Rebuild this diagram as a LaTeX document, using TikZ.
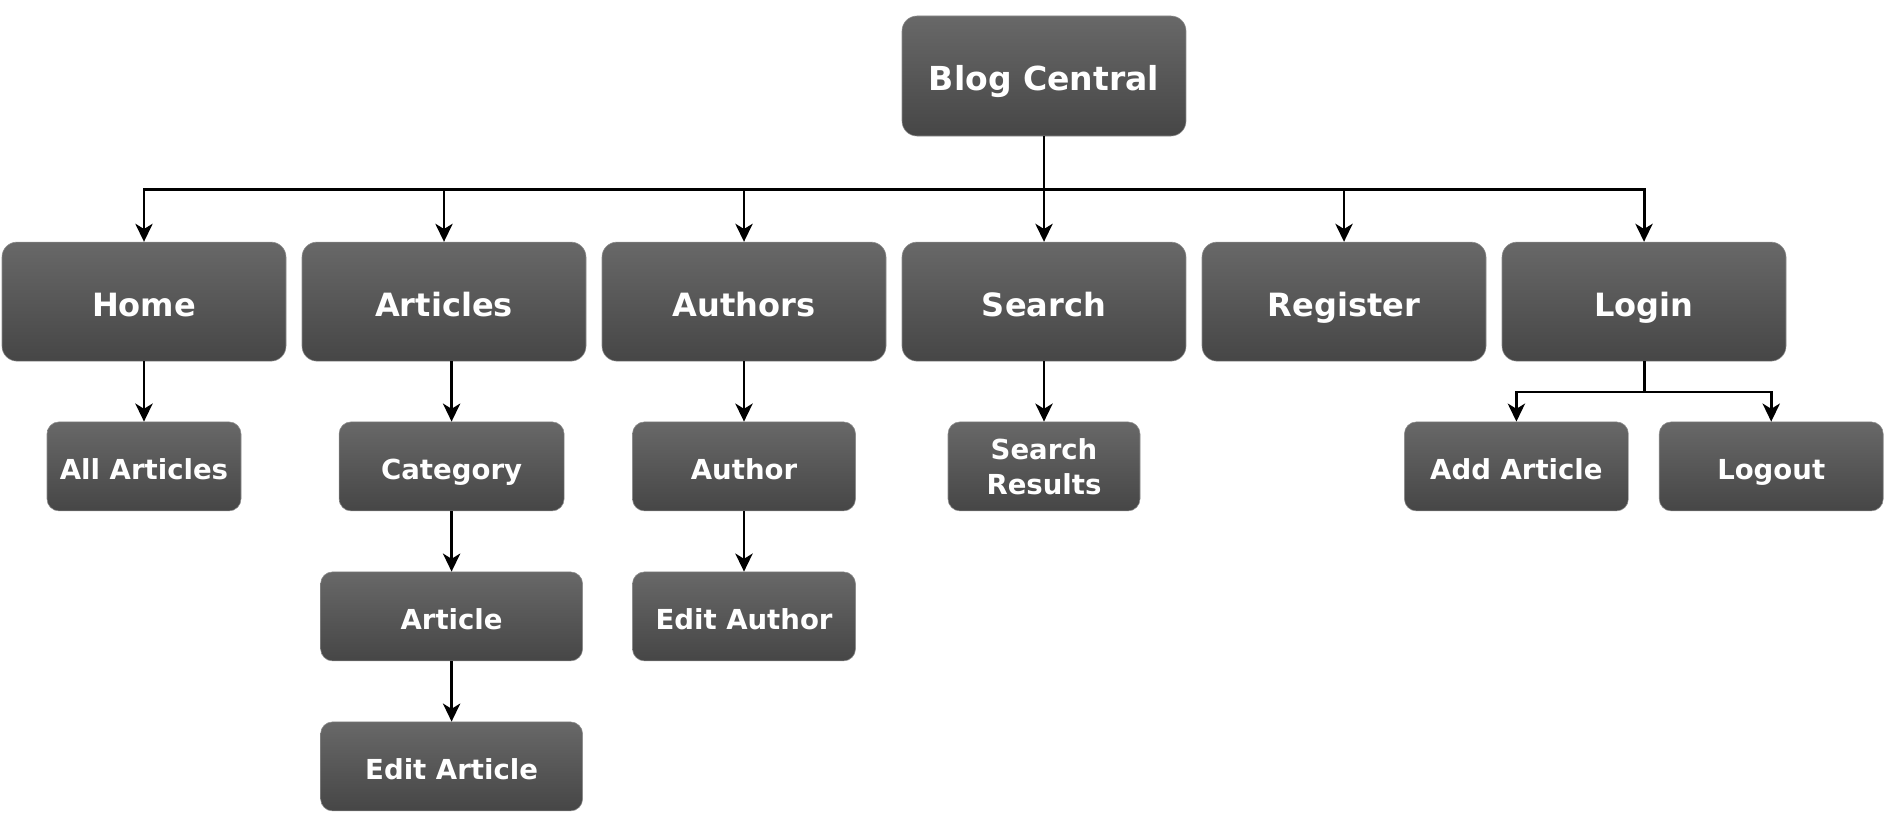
\documentclass[tikz,border=0pt]{standalone}
\usepackage{fontspec}
\setmainfont{DejaVu Sans}
\usepackage{tikz}
\usetikzlibrary{arrows.meta,positioning,calc}
\definecolor{boxTop}{HTML}{686868}
\definecolor{boxBottom}{HTML}{464646}
\definecolor{boxEdge}{HTML}{8C8C8C}

\begin{document}
\begin{tikzpicture}[
    page/.style={draw=boxEdge, line width=0.4pt, top color=boxTop, bottom color=boxBottom, text=white, align=center, inner sep=0pt, text depth=0pt},
    root/.style={page, text height=21.2pt, minimum width=7.1cm, minimum height=3cm, rounded corners=0.375cm, font=\fontsize{23.5}{26}\selectfont\bfseries},
    menu/.style={page, text height=20.5pt, minimum width=7.1cm, minimum height=2.975cm, rounded corners=0.375cm, font=\fontsize{22.8}{25}\selectfont\bfseries},
    sub/.style={draw=boxEdge, line width=0.4pt, top color=boxTop, bottom color=boxBottom, text=white, align=center, inner sep=0pt, minimum height=2.225cm, rounded corners=0.3cm, font=\fontsize{19.6}{24.9}\selectfont\bfseries},
    leaf/.style={sub, text height=18.2pt, text depth=0pt},
    link/.style={line width=2.1pt},
    arrow/.style={link, -{Stealth[length=4.5mm, width=4.3mm, inset=1.3mm]}}
]
\useasboundingbox (0,0) rectangle (47.15,-20.35);

\node[root] (blog) at (26.1,-1.9) {Blog Central};

\node[menu] (home) at (3.6,-7.54) {Home};
\node[menu] (articles) at (11.1,-7.54) {Articles};
\node[menu] (authors) at (18.6,-7.54) {Authors};
\node[menu] (search) at (26.1,-7.54) {Search};
\node[menu] (register) at (33.6,-7.54) {Register};
\node[menu] (login) at (41.1,-7.54) {Login};

\node[leaf, minimum width=4.85cm] (allarticles) at (3.6,-11.66) {All Articles};
\node[leaf, minimum width=5.625cm] (category) at (11.29,-11.66) {Category};
\node[leaf, minimum width=6.55cm] (article) at (11.29,-15.41) {Article};
\node[leaf, minimum width=6.55cm] (editarticle) at (11.29,-19.16) {Edit Article};
\node[leaf, minimum width=5.575cm] (author) at (18.6,-11.66) {Author};
\node[leaf, minimum width=5.575cm] (editauthor) at (18.6,-15.41) {Edit Author};
\node[sub, minimum width=4.8cm] (results) at (26.1,-11.66) {Search\\Results};
\node[leaf, minimum width=5.6cm] (addarticle) at (37.91,-11.66) {Add Article};
\node[leaf, minimum width=5.6cm] (logout) at (44.28,-11.66) {Logout};

\draw[link] (blog.south) -- ++(0,-1.325) coordinate (bus);
\foreach \n in {home,articles,authors,search,register,login}
    \draw[arrow] (bus) -| (\n.north);

\draw[arrow] (home) -- (allarticles);
\draw[arrow] (category.north |- articles.south) -- (category.north);
\draw[arrow] (category) -- (article);
\draw[arrow] (article) -- (editarticle);
\draw[arrow] (authors) -- (author);
\draw[arrow] (author) -- (editauthor);
\draw[arrow] (search) -- (results);

\draw[link] (login.south) -- ++(0,-0.765) coordinate (loginbus);
\draw[arrow] (loginbus) -| (addarticle.north);
\draw[arrow] (loginbus) -| (logout.north);

\end{tikzpicture}
\end{document}
